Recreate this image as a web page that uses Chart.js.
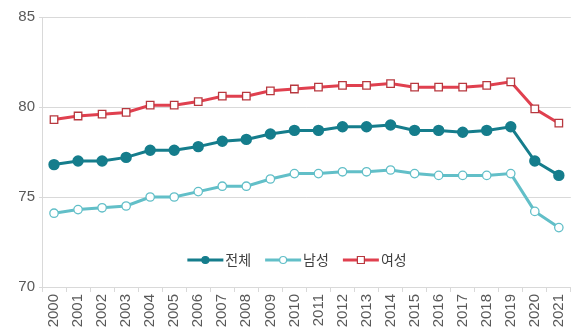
<!DOCTYPE html>
<html lang="ko">
<head>
<meta charset="utf-8">
<script src="https://cdn.jsdelivr.net/npm/chart.js@4/dist/chart.umd.min.js"></script>
<style>
    html, body { margin: 0; padding: 0; background: #fff; overflow: hidden; }
    #wrap { width: 579px; height: 333px; position: relative; }
</style>
</head>
<body>
<div id="wrap"><canvas id="lifeChart"></canvas></div>
<script>
const years = ['2000', '2001', '2002', '2003', '2004', '2005', '2006', '2007', '2008', '2009', '2010',
    '2011', '2012', '2013', '2014', '2015', '2016', '2017', '2018', '2019', '2020', '2021'];

const total = [76.8, 77.0, 77.0, 77.2, 77.6, 77.6, 77.8, 78.1, 78.2, 78.5, 78.7,
    78.7, 78.9, 78.9, 79.0, 78.7, 78.7, 78.6, 78.7, 78.9, 77.0, 76.2];
const male = [74.1, 74.3, 74.4, 74.5, 75.0, 75.0, 75.3, 75.6, 75.6, 76.0, 76.3,
    76.3, 76.4, 76.4, 76.5, 76.3, 76.2, 76.2, 76.2, 76.3, 74.2, 73.3];
const female = [79.3, 79.5, 79.6, 79.7, 80.1, 80.1, 80.3, 80.6, 80.6, 80.9, 81.0,
    81.1, 81.2, 81.2, 81.3, 81.1, 81.1, 81.1, 81.2, 81.4, 79.9, 79.1];

const yTicks = [70, 75, 80, 85];

const seriesNames = ['전체', '남성', '여성'];

// legend drawn inside the plot: short line with the marker in the middle
const lineLegend = {
    id: 'lineLegend',
    afterDraw(chart) {
        const ctx = chart.ctx;
        ctx.save();
        ctx.font = '14px "Noto Sans CJK KR", "Noto Sans", sans-serif';
        const segW = 36, gapText = 2, gapItem = 14;
        const items = chart.data.datasets.map(ds => ({ ds, w: segW + gapText + ctx.measureText(ds.label).width }));
        const totalW = items.reduce((s, it) => s + it.w, 0) + gapItem * (items.length - 1);
        let x = 297 - totalW / 2;
        const y = 260;
        items.forEach(({ ds, w }) => {
            ctx.strokeStyle = ds.borderColor;
            ctx.lineWidth = 3;
            ctx.beginPath();
            ctx.moveTo(x, y);
            ctx.lineTo(x + segW, y);
            ctx.stroke();

            ctx.fillStyle = ds.pointBackgroundColor;
            ctx.strokeStyle = ds.pointBorderColor;
            ctx.lineWidth = 1.2;
            ctx.beginPath();
            if (ds.pointStyle === 'rect') {
                ctx.rect(x + segW / 2 - 3.5, y - 3.5, 7, 7);
            } else {
                ctx.arc(x + segW / 2, y, 3.5, 0, Math.PI * 2);
            }
            ctx.fill();
            ctx.stroke();

            ctx.fillStyle = '#404040';
            ctx.textBaseline = 'middle';
            ctx.fillText(ds.label, x + segW + gapText, y);
            x += w + gapItem;
        });
        ctx.restore();
    }
};

const ctx = document.getElementById('lifeChart').getContext('2d');

new Chart(ctx, {
    type: 'line',
    data: {
        labels: years,
        datasets: [
            {
                label: seriesNames[0],
                data: total,
                borderColor: '#157d8c',
                backgroundColor: '#157d8c',
                pointBackgroundColor: '#157d8c',
                pointBorderColor: '#157d8c',
                pointStyle: 'circle',
                pointRadius: 4.2,
                borderWidth: 3
            },
            {
                label: seriesNames[1],
                data: male,
                borderColor: '#62bfc8',
                backgroundColor: '#62bfc8',
                pointBackgroundColor: '#ffffff',
                pointBorderColor: '#62bfc8',
                pointStyle: 'circle',
                pointRadius: 4.2,
                pointBorderWidth: 1.3,
                borderWidth: 3
            },
            {
                label: seriesNames[2],
                data: female,
                borderColor: '#e0404f',
                backgroundColor: '#e0404f',
                pointBackgroundColor: '#ffffff',
                pointBorderColor: '#b8383f',
                pointStyle: 'rect',
                pointRadius: 5.3,
                pointBorderWidth: 1.3,
                borderWidth: 3
            }
        ]
    },
    options: {
        responsive: true,
        maintainAspectRatio: false,
        animation: false,
        layout: { padding: { top: 17, right: 0, left: 0, bottom: 0 } },
        plugins: {
            legend: { display: false },
            tooltip: { enabled: false }
        },
        scales: {
            x: {
                offset: true,
                grid: {
                    offset: true,
                    drawOnChartArea: false,
                    color: '#d9d9d9',
                    tickLength: 5
                },
                border: { color: '#d9d9d9' },
                ticks: {
                    color: '#595959',
                    font: { family: '"Liberation Sans", Arial, sans-serif', size: 15 },
                    minRotation: 90,
                    maxRotation: 90,
                    padding: 2
                },
                afterFit(scale) { scale.height = 46; }
            },
            y: {
                min: 70,
                max: 85,
                afterBuildTicks(scale) { scale.ticks = yTicks.map(v => ({ value: v })); },
                grid: {
                    color: '#d9d9d9',
                    tickLength: 3
                },
                border: { color: '#d9d9d9' },
                ticks: {
                    color: '#595959',
                    font: { family: '"Liberation Sans", Arial, sans-serif', size: 15 },
                    padding: 4
                },
                afterFit(scale) { scale.width = 42; }
            }
        }
    },
    plugins: [lineLegend]
});
</script>
</body>
</html>
